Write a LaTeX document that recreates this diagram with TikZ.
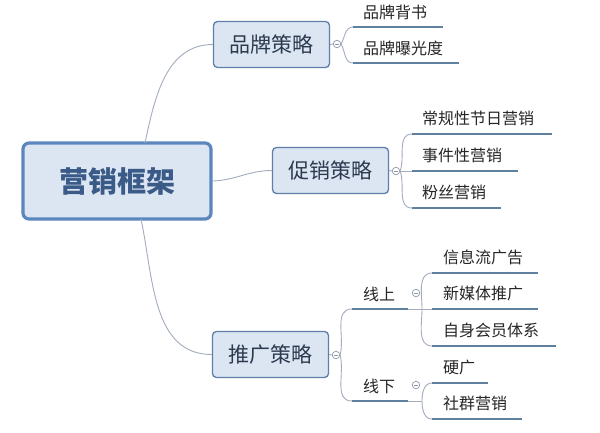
\documentclass[tikz,border=0pt]{standalone}
\usepackage{fontspec}
\setmainfont{Noto Sans CJK SC}
\begin{document}
\begin{tikzpicture}[x=1pt,y=-1pt,
  rootbox/.style={draw=rootedge,line width=3.2pt,fill=boxfill,rounded corners=6pt,
    minimum width=188pt,minimum height=76pt,inner sep=0pt,
    font=\fontsize{29}{32}\selectfont\bfseries,text=roottext},
  midbox/.style={draw=boxedge,line width=1.3pt,fill=boxfill,rounded corners=4pt,
    minimum width=116pt,minimum height=46pt,inner sep=0pt,
    font=\fontsize{21}{24}\selectfont,text=boxtext},
  leaf/.style={anchor=west,inner sep=0pt,font=\fontsize{16}{18}\selectfont,text=leaftext},
  uline/.style={draw=ulcolor,line width=2.2pt},
  conn/.style={draw=conncolor,line width=0.9pt},
  knob/.style={circle,draw=knobcolor,fill=white,line width=0.7pt,minimum size=7.5pt,inner sep=0pt,
    path picture={\draw[knobcolor,line width=0.6pt] ([xshift=-2pt]path picture bounding box.center) -- ([xshift=2pt]path picture bounding box.center);}}
]
\definecolor{rootedge}{HTML}{5B86BE}
\definecolor{boxedge}{HTML}{5F7FAA}
\definecolor{boxfill}{HTML}{DCE6F2}
\definecolor{roottext}{HTML}{3A5A88}
\definecolor{boxtext}{HTML}{2C3A4E}
\definecolor{leaftext}{HTML}{262626}
\definecolor{ulcolor}{HTML}{60809F}
\definecolor{conncolor}{HTML}{A3ADBD}
\definecolor{knobcolor}{HTML}{8C97A8}
\useasboundingbox (0,0) rectangle (600,432);
\fill[white] (0,0) rectangle (600,432);

% coordinates for connector ends
\coordinate (rtop) at (145,143);
\coordinate (rbot) at (141,219);

% main boxes
\node[rootbox] (root) at (117,181) {营销框架};
\node[midbox] (brand) at (271.5,44.5) {品牌策略};
\node[midbox] (promo) at (330.5,170.5) {促销策略};
\node[midbox] (push) at (270.5,354.5) {推广策略};

% root connectors
\draw[conn] (rtop) to[out=78,in=180] (brand.west);
\draw[conn] (root.east) to[out=2,in=180] (promo.west);
\draw[conn] (rbot) to[out=-78,in=180] (push.west);

% knobs
\node[knob] (kb) at (337,44) {};
\node[knob] (kp) at (396,171) {};
\node[knob] (kt) at (336,355) {};
\node[knob] (ko) at (416,293) {};
\node[knob] (kx) at (416,385) {};
\draw[conn] (brand.east) -- (kb.west);
\draw[conn] (promo.east) -- (kp.west);
\draw[conn] (push.east) -- (kt.west);

% brand leaves
\coordinate (b1s) at (353,27); \coordinate (b1e) at (443,27);
\coordinate (b2s) at (353,63); \coordinate (b2e) at (459,63);
\draw[conn] (kb.east) to[out=60,in=180] (b1s);
\draw[conn] (kb.east) to[out=-60,in=180] (b2s);
\draw[uline] (b1s) -- (b1e);
\draw[uline] (b2s) -- (b2e);
\node[leaf] (b1) at (363,12) {品牌背书};
\node[leaf] (b2) at (363,48) {品牌曝光度};

% promo leaves
\coordinate (p1s) at (412,134); \coordinate (p1e) at (552,134);
\coordinate (p2s) at (412,171); \coordinate (p2e) at (518,171);
\coordinate (p3s) at (412,208); \coordinate (p3e) at (501,208);
\draw[conn] (kp.east) to[out=70,in=180] (p1s);
\draw[conn] (kp.east) -- (p2s);
\draw[conn] (kp.east) to[out=-70,in=180] (p3s);
\draw[uline] (p1s) -- (p1e);
\draw[uline] (p2s) -- (p2e);
\draw[uline] (p3s) -- (p3e);
\node[leaf] (p1) at (422,118) {常规性节日营销};
\node[leaf] (p2) at (422,155) {事件性营销};
\node[leaf] (p3) at (422,192) {粉丝营销};

% push: online / offline
\coordinate (ons) at (352,309); \coordinate (one) at (408,309);
\coordinate (ofs) at (352,401); \coordinate (ofe) at (408,401);
\draw[conn] (kt.east) to[out=75,in=180] (ons);
\draw[conn] (kt.east) to[out=-75,in=180] (ofs);
\draw[uline] (ons) -- (one);
\draw[uline] (ofs) -- (ofe);
\node[leaf] (on) at (363,294) {线上};
\node[leaf] (of) at (363,386) {线下};

% online leaves
\coordinate (o1s) at (432,273); \coordinate (o1e) at (538,273);
\coordinate (o2s) at (432,309); \coordinate (o2e) at (538,309);
\coordinate (o3s) at (432,346); \coordinate (o3e) at (556,346);
\coordinate (ojn) at (422,309);
\draw[conn] (one) -- (o2s);
\draw[conn] (ojn) to[out=90,in=180] (o1s);
\draw[conn] (ojn) to[out=-90,in=180] (o3s);
\draw[uline] (o1s) -- (o1e);
\draw[uline] (o2s) -- (o2e);
\draw[uline] (o3s) -- (o3e);
\node[leaf] (o1) at (443,257) {信息流广告};
\node[leaf] (o2) at (443,293) {新媒体推广};
\node[leaf] (o3) at (443,330) {自身会员体系};

% offline leaves
\coordinate (x1s) at (432,383); \coordinate (x1e) at (488,383);
\coordinate (x2s) at (432,419); \coordinate (x2e) at (522,419);
\coordinate (xjn) at (422,401);
\draw[conn] (ofe) -- (xjn);
\draw[conn] (xjn) to[out=90,in=180] (x1s);
\draw[conn] (xjn) to[out=-90,in=180] (x2s);
\draw[uline] (x1s) -- (x1e);
\draw[uline] (x2s) -- (x2e);
\node[leaf] (x1) at (443,367) {硬广};
\node[leaf] (x2) at (443,403) {社群营销};
\end{tikzpicture}
\end{document}
